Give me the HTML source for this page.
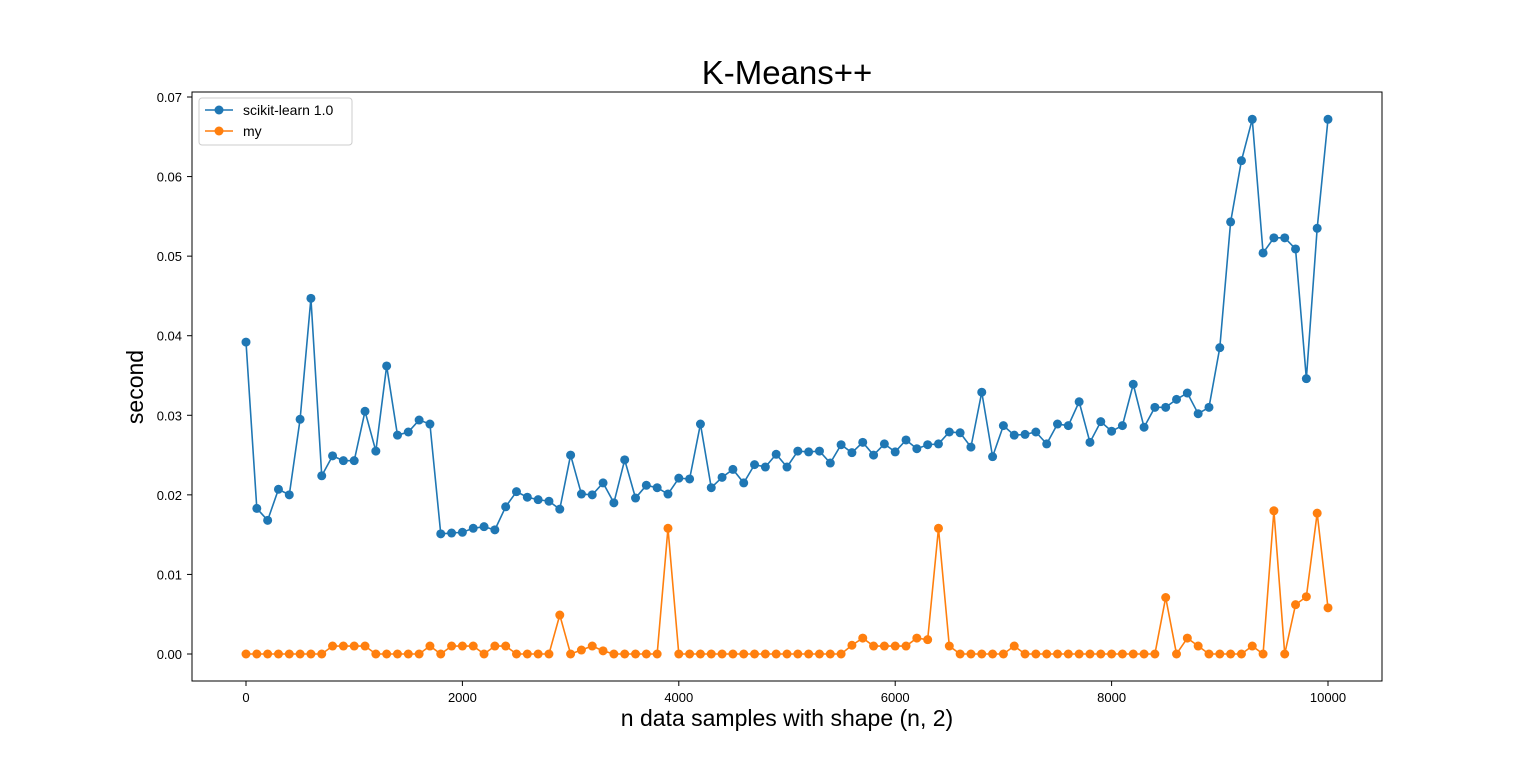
<!DOCTYPE html>
<html><head><meta charset="utf-8"><style>
body{margin:0;background:#fff;}
svg{font-family:"Liberation Sans","DejaVu Sans",sans-serif;}
</style></head><body>
<svg id="chart" width="1536" height="765">
<rect x="0" y="0" width="1536" height="765" fill="#fff"/>
<text x="787" y="84" text-anchor="middle" font-size="33">K-Means++</text>
<g id="plot"></g>
<rect x="192" y="92" width="1190" height="589" fill="none" stroke="#000" stroke-width="1"/>
<text x="787" y="726" text-anchor="middle" font-size="23">n data samples with shape (n, 2)</text>
<text transform="translate(143,387) rotate(-90)" text-anchor="middle" font-size="23">second</text>
<g>
<rect x="199" y="98" width="153" height="47" rx="3" fill="#fff" stroke="#ccc"/>
<g>
<line x1="205" y1="110" x2="233" y2="110" stroke="#1f77b4" stroke-width="1.5"/><circle cx="219" cy="110" r="4.5" fill="#1f77b4"/>
<text x="243" y="115" font-size="14">scikit-learn 1.0</text></g>
<g>
<line x1="205" y1="131" x2="233" y2="131" stroke="#ff7f0e" stroke-width="1.5"/><circle cx="219" cy="131" r="4.5" fill="#ff7f0e"/>
<text x="243" y="136" font-size="14">my</text></g>
</g>
</svg>
<script>
const xValues=[];for(let i=0;i<=100;i++)xValues.push(i*100);
const sklearnSeries=[0.0392,0.0183,0.0168,0.0207,0.0200,0.0295,0.0447,0.0224,0.0249,0.0243,0.0243,0.0305,0.0255,0.0362,0.0275,0.0279,0.0294,0.0289,0.0151,0.0152,0.0153,0.0158,0.0160,0.0156,0.0185,0.0204,0.0197,0.0194,0.0192,0.0182,0.0250,0.0201,0.0200,0.0215,0.0190,0.0244,0.0196,0.0212,0.0209,0.0201,0.0221,0.0220,0.0289,0.0209,0.0222,0.0232,0.0215,0.0238,0.0235,0.0251,0.0235,0.0255,0.0254,0.0255,0.0240,0.0263,0.0253,0.0266,0.0250,0.0264,0.0254,0.0269,0.0258,0.0263,0.0264,0.0279,0.0278,0.0260,0.0329,0.0248,0.0287,0.0275,0.0276,0.0279,0.0264,0.0289,0.0287,0.0317,0.0266,0.0292,0.0280,0.0287,0.0339,0.0285,0.0310,0.0310,0.0320,0.0328,0.0302,0.0310,0.0385,0.0543,0.0620,0.0672,0.0504,0.0523,0.0523,0.0509,0.0346,0.0535,0.0672];
const mySeries=[0,0,0,0,0,0,0,0,0.001,0.001,0.001,0.001,0,0,0,0,0,0.001,0,0.001,0.001,0.001,0,0.001,0.001,0,0,0,0,0.0049,0,0.0005,0.001,0.0004,0,0,0,0,0,0.0158,0,0,0,0,0,0,0,0,0,0,0,0,0,0,0,0,0.0011,0.002,0.001,0.001,0.001,0.001,0.002,0.0018,0.0158,0.001,0,0,0,0,0,0.001,0,0,0,0,0,0,0,0,0,0,0,0,0,0.0071,0,0.002,0.001,0,0,0,0,0.001,0,0.018,0,0.0062,0.0072,0.0177,0.0058];
const xTicks=[0,2000,4000,6000,8000,10000];
const yTicks=[0,0.01,0.02,0.03,0.04,0.05,0.06,0.07];
const yTickLabels=["0.00","0.01","0.02","0.03","0.04","0.05","0.06","0.07"];
const NS="http://www.w3.org/2000/svg";
const sx=v=>246+v*(1328-246)/10000;
const sy=v=>654-v*(654-97)/0.07;
const g=document.getElementById('plot');
function mk(t,a){const e=document.createElementNS(NS,t);for(const k in a)e.setAttribute(k,a[k]);return e;}
xTicks.forEach(t=>{
 const l=mk('line',{x1:sx(t),x2:sx(t),y1:681,y2:686,stroke:'#000'});
 
 
 g.appendChild(l);
 const tx=mk('text',{x:sx(t),y:702,'text-anchor':'middle','font-size':13});
 
 
 tx.textContent=t;g.appendChild(tx);
});
yTicks.forEach((t,i)=>{
 const l=mk('line',{x1:187,x2:192,y1:sy(t),y2:sy(t),stroke:'#000'});
 
 
 g.appendChild(l);
 const tx=mk('text',{x:182,y:sy(t)+5,'text-anchor':'end','font-size':13});
 
 
 tx.textContent=yTickLabels[i];g.appendChild(tx);
});
function series(vals,color,name){
 const pts=vals.map((v,i)=>sx(xValues[i])+','+sy(v)).join(' ');
 const pl=mk('polyline',{points:pts,fill:'none',stroke:color,'stroke-width':1.6});
 
 
 g.appendChild(pl);
 vals.forEach((v,i)=>{
  const c=mk('circle',{cx:sx(xValues[i]),cy:sy(v),r:4.5,fill:color});
  
  
  g.appendChild(c);
 });
}
series(sklearnSeries,'#1f77b4','sklearn');
series(mySeries,'#ff7f0e','my');
</script>
</body></html>
